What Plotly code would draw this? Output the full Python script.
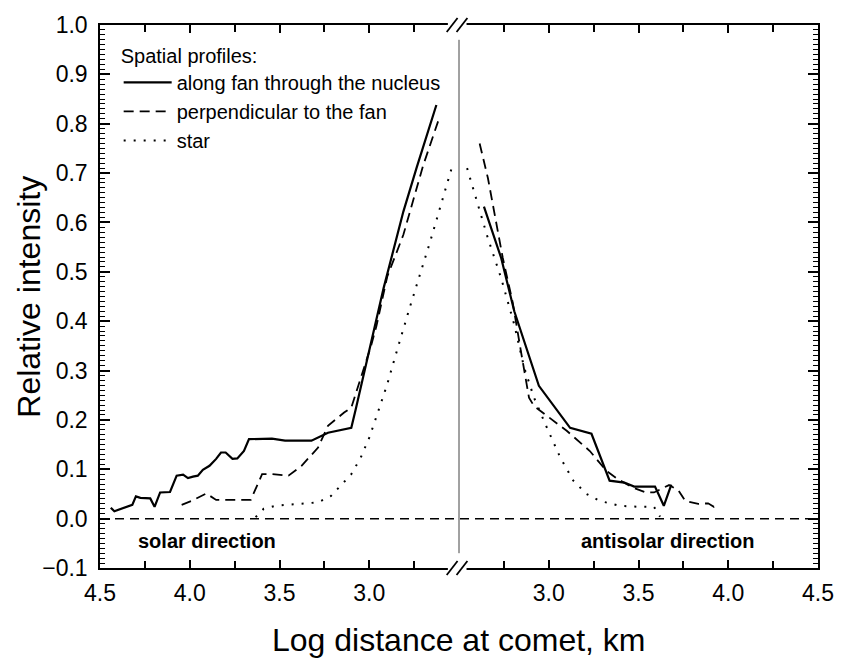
import plotly.graph_objects as go

# ---------------- data (log distance, relative intensity) ----------------
# solar direction (left panel)
sol_fan_x = [4.44, 4.42, 4.32, 4.30, 4.275, 4.22, 4.196, 4.183, 4.165, 4.11, 4.073, 4.037,
             4.01, 3.982, 3.955, 3.927, 3.89, 3.853, 3.826, 3.80, 3.762, 3.735, 3.698, 3.67,
             3.542, 3.469, 3.322, 3.23, 3.10, 3.075, 3.00, 2.97, 2.92, 2.81, 2.736, 2.626]
sol_fan_y = [0.022, 0.015, 0.028, 0.045, 0.042, 0.041, 0.024, 0.036, 0.053, 0.054, 0.087, 0.089,
             0.082, 0.085, 0.087, 0.099, 0.107, 0.121, 0.134, 0.134, 0.121, 0.122, 0.137, 0.161,
             0.162, 0.158, 0.158, 0.174, 0.184, 0.222, 0.34, 0.39, 0.467, 0.622, 0.711, 0.838]

sol_perp_x = [4.045, 3.99, 3.908, 3.853, 3.66, 3.597, 3.54, 3.45, 3.377, 3.285, 3.23, 3.14,
              3.10, 2.99, 2.96, 2.90, 2.81, 2.70, 2.607]
sol_perp_y = [0.028, 0.036, 0.051, 0.038, 0.038, 0.090, 0.090, 0.087, 0.107, 0.144, 0.188, 0.215,
              0.225, 0.35, 0.39, 0.49, 0.575, 0.715, 0.815]

sol_star_x = [3.633, 3.588, 3.524, 3.285, 3.213, 3.158, 3.10, 3.047, 3.0, 2.956, 2.90, 2.846,
              2.775, 2.66, 2.59, 2.533]
sol_star_y = [0.003, 0.020, 0.026, 0.033, 0.046, 0.067, 0.090, 0.124, 0.164, 0.211, 0.272, 0.34,
              0.427, 0.562, 0.649, 0.72]

# antisolar direction (right panel)
anti_fan_x = [2.639, 2.735, 2.808, 2.945, 3.119, 3.238, 3.339, 3.421, 3.476, 3.592, 3.641, 3.683]
anti_fan_y = [0.632, 0.528, 0.42, 0.269, 0.184, 0.172, 0.077, 0.073, 0.065, 0.065, 0.026, 0.069]

anti_perp_x = [2.615, 2.661, 2.744, 2.798, 2.845, 2.89, 2.918, 2.99, 3.10, 3.229, 3.32, 3.385,
               3.467, 3.54, 3.586, 3.67, 3.723, 3.76, 3.833, 3.888, 3.92, 3.943]
anti_perp_y = [0.76, 0.69, 0.528, 0.44, 0.339, 0.245, 0.228, 0.208, 0.178, 0.137, 0.097, 0.08,
               0.063, 0.053, 0.053, 0.068, 0.057, 0.036, 0.030, 0.031, 0.024, 0.031]

anti_star_x = [2.545, 2.588, 2.661, 2.735, 2.808, 2.863, 2.918, 2.99, 3.064, 3.137, 3.21, 3.284,
               3.394, 3.504, 3.586, 3.62]
anti_star_y = [0.71, 0.656, 0.568, 0.487, 0.393, 0.306, 0.245, 0.184, 0.124, 0.077, 0.05, 0.036,
               0.026, 0.024, 0.024, 0.004]

x_ticks = [4.5, 4.0, 3.5, 3.0]
x_tick_text = ["4.5", "4.0", "3.5", "3.0"]
legend_names = ["along fan through the nucleus", "perpendicular to the fan", "star"]

FONT = "Arial, Liberation Sans, sans-serif"
BLACK = "#000000"

solid = dict(color=BLACK, width=2.2)
dashed = dict(color=BLACK, width=1.8, dash="10px,6px")
dotted = dict(color=BLACK, width=2, dash="2px,8px")

fig = go.Figure()
# left panel
fig.add_trace(go.Scatter(x=sol_fan_x, y=sol_fan_y, mode="lines", line=solid,
                         name=legend_names[0], xaxis="x", yaxis="y"))
fig.add_trace(go.Scatter(x=sol_perp_x, y=sol_perp_y, mode="lines", line=dashed,
                         name=legend_names[1], xaxis="x", yaxis="y"))
fig.add_trace(go.Scatter(x=sol_star_x, y=sol_star_y, mode="lines", line=dotted,
                         name=legend_names[2], xaxis="x", yaxis="y"))
# right panel
fig.add_trace(go.Scatter(x=anti_fan_x, y=anti_fan_y, mode="lines", line=solid,
                         showlegend=False, xaxis="x2", yaxis="y2"))
fig.add_trace(go.Scatter(x=anti_perp_x, y=anti_perp_y, mode="lines", line=dashed,
                         showlegend=False, xaxis="x2", yaxis="y2"))
fig.add_trace(go.Scatter(x=anti_star_x, y=anti_star_y, mode="lines", line=dotted,
                         showlegend=False, xaxis="x2", yaxis="y2"))

xcommon = dict(
    showline=True, linecolor=BLACK, linewidth=1.5, mirror="ticks",
    ticks="inside", ticklen=8, tickwidth=1.5, tickcolor=BLACK,
    showgrid=False, zeroline=False,
    tickvals=x_ticks, ticktext=x_tick_text,
    tickfont=dict(family=FONT, size=23, color=BLACK),
    ticklabelstandoff=4,
    minor=dict(dtick=0.25, ticks="inside", ticklen=7, tickwidth=1.5, tickcolor=BLACK, showgrid=False),
)
ycommon = dict(
    range=[-0.1, 1.0], showline=True, linecolor=BLACK, linewidth=1.5,
    ticks="inside", ticklen=10, tickwidth=1.5, tickcolor=BLACK,
    showgrid=False, zeroline=False, dtick=0.1, tick0=0,
    minor=dict(dtick=0.01, ticks="inside", ticklen=5, tickwidth=1.2, tickcolor=BLACK, showgrid=False),
)

fig.update_layout(
    width=846, height=658,
    margin=dict(l=100, r=17, t=22, b=90),
    paper_bgcolor="white", plot_bgcolor="white",
    font=dict(family=FONT, color=BLACK),
    xaxis=dict(domain=[0, 0.5], range=[4.5, 2.5], anchor="y", **xcommon),
    xaxis2=dict(domain=[0.5, 1], range=[2.5, 4.5], anchor="y2", **xcommon),
    yaxis=dict(anchor="x", side="left", tickformat=".1f",
               tickfont=dict(family=FONT, size=23, color=BLACK), ticklabelstandoff=6, **ycommon),
    yaxis2=dict(anchor="x2", side="right", matches="y", showticklabels=False, **ycommon),
    showlegend=True,
    legend=dict(
        x=0.026, y=0.978, xanchor="left", yanchor="top",
        bgcolor="rgba(0,0,0,0)", borderwidth=0,
        font=dict(family=FONT, size=20, color=BLACK),
        title=dict(text="Spatial profiles:", font=dict(family=FONT, size=20, color=BLACK)),
        itemwidth=48, tracegroupgap=0,
    ),
)

# zero reference line across both panels
fig.add_shape(type="line", xref="paper", yref="y", x0=0, x1=1, y0=0, y1=0,
              line=dict(color=BLACK, width=1.5, dash="9px,6px"), layer="above")
# thin vertical separator at the break
fig.add_shape(type="line", xref="paper", yref="y", x0=0.5, x1=0.5, y0=-0.07, y1=0.97,
              line=dict(color="#444444", width=1), layer="above")
# gaps in the frame at the axis break
for yc in (0.0, 1.0):
    fig.add_shape(type="rect", xref="paper", yref="paper", x0=0.4845, x1=0.5105,
                  y0=yc - 0.008, y1=yc + 0.008, fillcolor="white", line=dict(width=0), layer="above")
    for dx in (0.0, 0.0137):
        fig.add_shape(type="line", xref="paper", yref="paper",
                      x0=0.4829 + dx, x1=0.4980 + dx, y0=yc - 0.0128, y1=yc + 0.0128,
                      line=dict(color=BLACK, width=1.8), layer="above")

# direction labels
fig.add_annotation(text="<b>solar direction</b>", xref="x", yref="y", x=4.30, y=-0.045,
                   xanchor="left", yanchor="middle", showarrow=False,
                   font=dict(family=FONT, size=20, color=BLACK))
fig.add_annotation(text="<b>antisolar direction</b>", xref="x2", yref="y", x=3.17, y=-0.045,
                   xanchor="left", yanchor="middle", showarrow=False,
                   font=dict(family=FONT, size=20, color=BLACK))

# axis titles
fig.add_annotation(text="Log distance at comet, km", xref="paper", yref="paper", x=0.5, y=-0.132,
                   xanchor="center", yanchor="middle", showarrow=False,
                   font=dict(family=FONT, size=32, color=BLACK))
fig.add_annotation(text="Relative intensity", xref="paper", yref="paper", x=-0.1, y=0.5,
                   xanchor="center", yanchor="middle", textangle=-90, showarrow=False,
                   font=dict(family=FONT, size=32, color=BLACK))

fig.write_html("out.html")
